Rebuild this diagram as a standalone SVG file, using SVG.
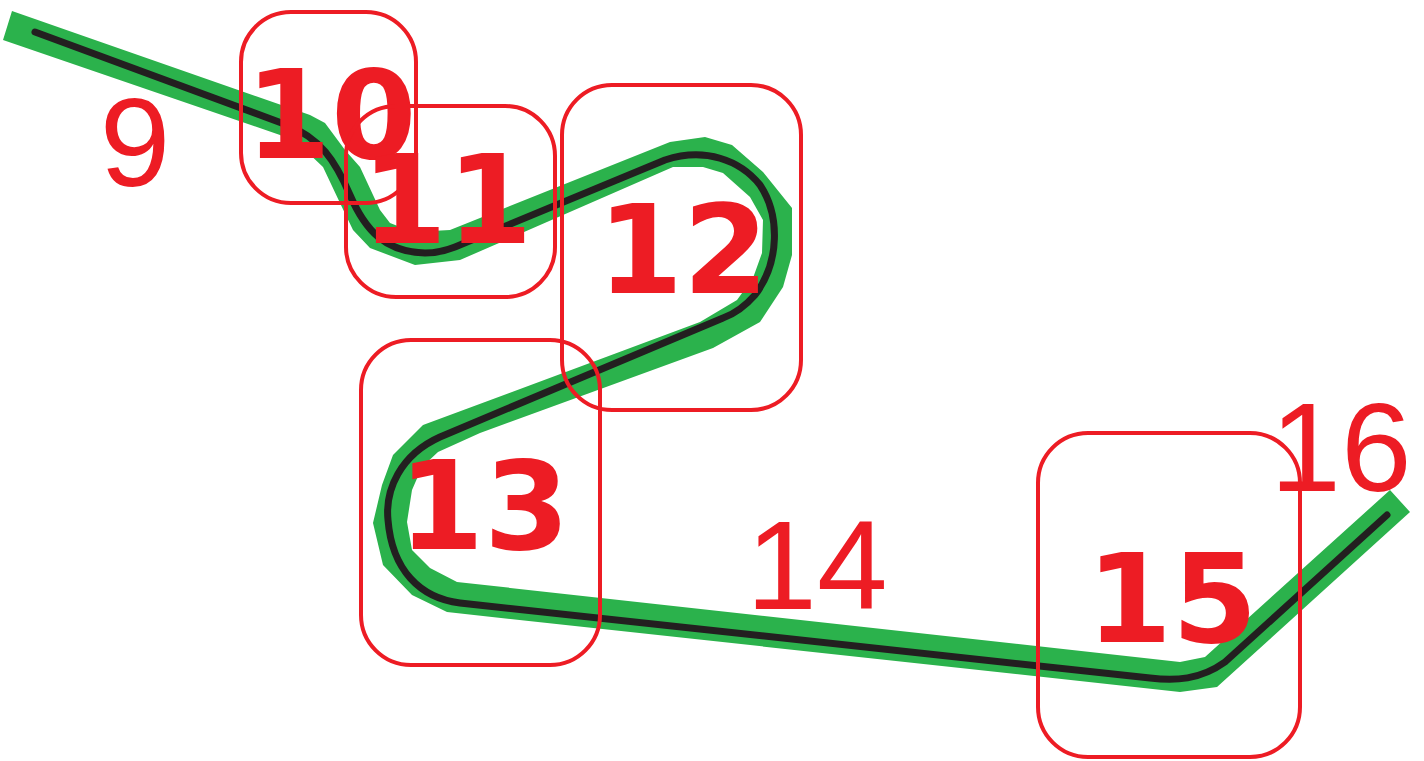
<svg xmlns="http://www.w3.org/2000/svg" width="1424" height="761" viewBox="0 0 1424 761">
<style>
.box{fill:none;stroke:#ed1c24;stroke-width:4}
.big{font-family:"DejaVu Sans",sans-serif;font-weight:bold;font-size:123px;fill:#ed1c24;text-anchor:middle}
.thin{font-family:"Liberation Sans",Arial,sans-serif;font-size:127px;fill:#ed1c24;text-anchor:middle}
.band{fill:#2bb24c;stroke:none}
.line{fill:none;stroke:#231f20;stroke-width:7;stroke-linecap:round;stroke-linejoin:round}
</style>
<rect width="1424" height="761" fill="#ffffff"/>
<g id="connectors">
<polygon class="band" points="12,11 310,115 325,123 345,150 360,167 380,210 390,223 413,232 450,230 670,142 705,137 732,145 763,172 792,208 792,255 783,287 760,322 713,348 480,433 438,452 422,467 412,490 407,522 412,550 430,568 457,582 1180,662 1205,657 1390,490 1410,512 1217,687 1180,692 447,612 412,595 383,565 373,523 382,485 393,455 423,425 700,322 737,300 753,278 762,253 763,220 750,197 723,173 703,167 673,167 460,260 415,265 370,248 353,230 340,203 323,167 303,148 280,135 3,40"/>
<path class="line" d="M35,32 L287,125 C320,138 335,160 350,195 C365,230 385,252 425,253 Q440,253 455,247 L665,160 C705,147 740,160 760,185 C780,215 780,262 755,295 Q740,312 723,318 L440,437 C400,455 385,490 388,520 C392,570 420,598 460,603 L1150,678 C1175,681 1200,680 1225,662 L1387,515"/>
</g>
<g id="label-9"><text class="thin" x="135" y="186">9</text></g>
<g id="label-14"><text class="thin" x="817" y="609">14</text></g>
<g id="label-16"><text class="thin" x="1341" y="491">16</text></g>
<g id="node-10">
<rect class="box" x="241" y="12" width="175" height="191" rx="50" ry="50"/>
<text class="big" x="331" y="158">10</text>
</g>
<g id="node-11">
<rect class="box" x="346" y="106" width="209" height="191" rx="50" ry="50"/>
<text class="big" x="447" y="243">11</text>
</g>
<g id="node-12">
<rect class="box" x="562" y="85" width="239" height="325" rx="50" ry="50"/>
<text class="big" x="683" y="293">12</text>
</g>
<g id="node-13">
<rect class="box" x="361" y="340" width="239" height="325" rx="50" ry="50"/>
<text class="big" x="484" y="549">13</text>
</g>
<g id="node-15">
<rect class="box" x="1038" y="433" width="262" height="324" rx="50" ry="50"/>
<text class="big" x="1172" y="642">15</text>
</g>
</svg>
